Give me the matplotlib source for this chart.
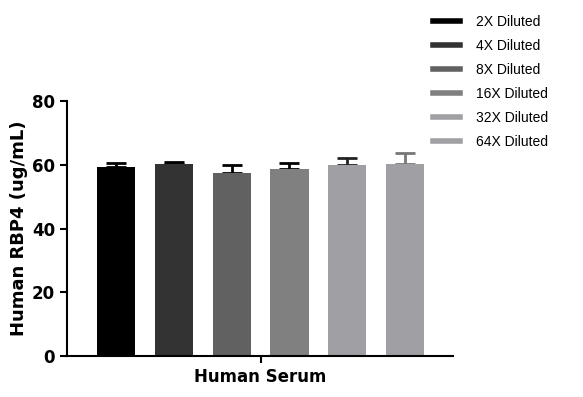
import matplotlib.pyplot as plt
from matplotlib.lines import Line2D

labels = ['2X Diluted', '4X Diluted', '8X Diluted', '16X Diluted', '32X Diluted', '64X Diluted']
means = [59.3, 60.2, 57.5, 58.6, 60.0, 60.3]
sds = [1.4, 0.6, 2.5, 1.8, 2.1, 3.4]
colors = ['#000000', '#333333', '#616161', '#808080', '#a0a0a4', '#a0a0a4']
err_colors = ['#000000', '#000000', '#000000', '#000000', '#222222', '#777777']
yticks = [0, 20, 40, 60, 80]

fig = plt.figure(figsize=(5.83, 3.97), dpi=100)
ax = fig.add_axes([67/583, 41/397, 386/583, 255/397])

for i in range(len(means)):
    ax.bar(i, means[i], width=0.66, color=colors[i], zorder=2)
    ax.errorbar(i, means[i], yerr=[[0], [sds[i]]], color=err_colors[i],
                capsize=7, capthick=2, elinewidth=2, zorder=1)

ax.set_xlim(-0.85, 5.83)
ax.set_ylim(0, 80)
ax.set_yticks(yticks)
ax.set_xticks([2.5])
ax.set_xticklabels(['Human Serum'], fontsize=12, fontweight='bold')
ax.tick_params(axis='y', labelsize=12, width=1.5, length=5)
ax.tick_params(axis='x', width=1.5, length=5)
for t in ax.get_yticklabels():
    t.set_fontweight('bold')
ax.set_ylabel('Human RBP4 (ug/mL)', fontsize=13, fontweight='bold', labelpad=3)
ax.spines['top'].set_visible(False)
ax.spines['right'].set_visible(False)
ax.spines['left'].set_linewidth(1.5)
ax.spines['bottom'].set_linewidth(1.5)

handles = [Line2D([0], [0], color=c, lw=4) for c in colors]
fig.legend(handles, labels, loc='upper left', bbox_to_anchor=(420/583, 1 - 2/397),
           frameon=False, handlelength=2.0, handletextpad=1.15, labelspacing=0.73,
           prop={'family': 'Liberation Sans', 'size': 10})

fig.savefig('out.png', dpi=100)
